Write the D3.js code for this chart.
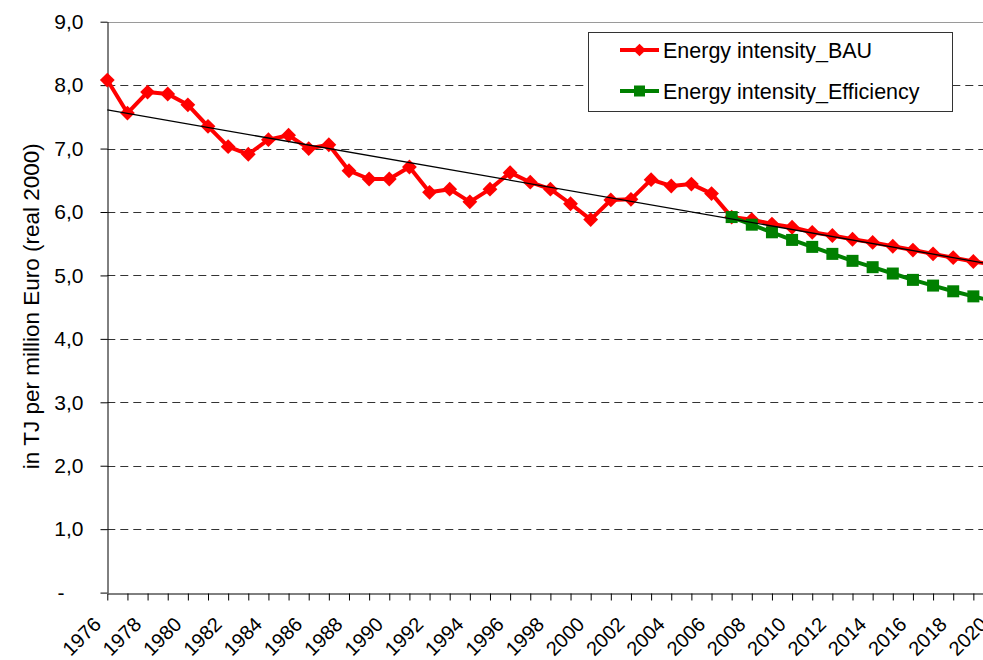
<!DOCTYPE html>
<html>
<head>
<meta charset="utf-8">
<script src="https://cdn.jsdelivr.net/npm/d3@7"></script>
<style>
  html, body { margin: 0; padding: 0; background: #fff; }
  svg { display: block; font-family: "Liberation Sans", Arial, sans-serif; }
</style>
</head>
<body>
<svg id="chart" width="983" height="660"></svg>
<script>
// ---- data ----
const years = d3.range(1976, 2021);
const bauValues = [
  8.08, 7.56, 7.89, 7.86, 7.69, 7.35, 7.03, 6.91, 7.14, 7.21,
  7.00, 7.06, 6.65, 6.52, 6.52, 6.71, 6.31, 6.36, 6.16, 6.36,
  6.62, 6.47, 6.36, 6.13, 5.88, 6.19, 6.20, 6.51, 6.41, 6.44,
  6.29, 5.92, 5.88, 5.81, 5.76, 5.68, 5.63, 5.57, 5.52, 5.46,
  5.40, 5.34, 5.28, 5.22, 5.17
];
const effYears = d3.range(2007, 2021);
const effValues = [5.92, 5.80, 5.68, 5.56, 5.45, 5.34, 5.23, 5.13, 5.03, 4.93, 4.84, 4.75, 4.67, 4.59];
const trendYears = [1976, 2020];
const trendValues = [7.61, 5.17];
const yTicks = [0, 1, 2, 3, 4, 5, 6, 7, 8, 9];
const yTickLabels = ["-", "1,0", "2,0", "3,0", "4,0", "5,0", "6,0", "7,0", "8,0", "9,0"];
const xLabelYears = d3.range(1976, 2021, 2);
const seriesNames = ["Energy intensity_BAU", "Energy intensity_Efficiency"];
const yTitle = "in TJ per million Euro (real 2000)";

// ---- layout ----
const svg = d3.select("#chart");
const x = d3.scaleLinear().domain([1976, 2020]).range([107.3, 993.5]);
const y = d3.scaleLinear().domain([0, 9]).range([592.6, 21.7]);
const red = "#ff0000", green = "#008000";

// gridlines
const grid = svg.append("g");
grid.selectAll("line.g").data(yTicks.filter(d => d > 0 && d < 9)).join("line")
  .attr("x1", x(1976)).attr("x2", x(2020))
  .attr("y1", d => Math.round(y(d)) + 0.5).attr("y2", d => Math.round(y(d)) + 0.5)
  .attr("stroke", "#333").attr("stroke-width", 1).attr("stroke-dasharray", "8,5");
grid.append("line")
  .attr("x1", x(1976)).attr("x2", x(2020))
  .attr("y1", Math.round(y(9)) + 0.5).attr("y2", Math.round(y(9)) + 0.5)
  .attr("stroke", "#9a9a9a").attr("stroke-width", 1);

// y axis
const yAxis = d3.axisLeft(y).tickValues(yTicks).tickSize(7).tickSizeOuter(0)
  .tickFormat((d, i) => yTickLabels[i]).tickPadding(17);
const gy = svg.append("g").attr("transform", `translate(${Math.round(x(1976)) + 0.5},0)`).call(yAxis);
gy.select(".domain").attr("stroke", "#000");
gy.selectAll(".tick line").attr("stroke", "#000");
gy.selectAll(".tick text").attr("font-size", 21).attr("fill", "#000")
  .attr("font-family", "Liberation Sans, Arial, sans-serif");
gy.selectAll(".tick").filter(d => d === 0).select("text").attr("dx", -19);

// x axis
const xAxis = d3.axisBottom(x).tickValues(years).tickSize(7).tickSizeOuter(0).tickFormat("");
const gx = svg.append("g").attr("transform", `translate(0,${Math.round(y(0)) + 0.5})`).call(xAxis);
gx.select(".domain").attr("stroke", "#000");
gx.selectAll(".tick line").attr("stroke", "#000");

svg.append("g").selectAll("text").data(xLabelYears).join("text")
  .attr("transform", d => `translate(${x(d) - 5},${y(0) + 33}) rotate(-45)`)
  .attr("text-anchor", "end")
  .attr("font-size", 20)
  .attr("fill", "#000")
  .text(d => d);

// y title
svg.append("text")
  .attr("transform", `translate(39,${(y(0) + y(9)) / 2 - 1}) rotate(-90)`)
  .attr("text-anchor", "middle")
  .attr("font-size", 22.5)
  .text(yTitle);

// series
const line = d3.line().x(d => x(d[0])).y(d => y(d[1]));
const bau = years.map((yr, i) => [yr, bauValues[i]]);
const eff = effYears.map((yr, i) => [yr, effValues[i]]);

svg.append("path").datum(bau).attr("d", line)
  .attr("fill", "none").attr("stroke", red).attr("stroke-width", 4).attr("stroke-linejoin", "round");
svg.append("g").selectAll("path").data(bau).join("path")
  .attr("transform", d => `translate(${x(d[0])},${y(d[1])}) rotate(45)`)
  .attr("d", d3.symbol().type(d3.symbolSquare).size(110)).attr("fill", red);

svg.append("path").datum(eff).attr("d", line)
  .attr("fill", "none").attr("stroke", green).attr("stroke-width", 4).attr("stroke-linejoin", "round");
svg.append("g").selectAll("rect").data(eff).join("rect")
  .attr("x", d => x(d[0]) - 6).attr("y", d => y(d[1]) - 6)
  .attr("width", 12).attr("height", 12).attr("fill", green);

// trend line
svg.append("line")
  .attr("x1", x(trendYears[0])).attr("y1", y(trendValues[0]))
  .attr("x2", x(trendYears[1])).attr("y2", y(trendValues[1]))
  .attr("stroke", "#000").attr("stroke-width", 1.3);

// legend
const lg = svg.append("g");
lg.append("rect").attr("x", 588.5).attr("y", 32.5).attr("width", 364).attr("height", 79)
  .attr("fill", "#fff").attr("stroke", "#333").attr("stroke-width", 1);
const legendItems = [
  { name: seriesNames[0], color: red, marker: "diamond" },
  { name: seriesNames[1], color: green, marker: "square" }
];
const li = lg.selectAll("g.item").data(legendItems).join("g")
  .attr("transform", (d, i) => `translate(620,${50 + i * 41})`);
li.append("line").attr("x1", 0).attr("x2", 39).attr("y1", 0).attr("y2", 0)
  .attr("stroke", d => d.color).attr("stroke-width", 4);
li.filter(d => d.marker === "diamond").append("path")
  .attr("transform", "translate(19.5,0) rotate(45)")
  .attr("d", d3.symbol().type(d3.symbolSquare).size(80)).attr("fill", red);
li.filter(d => d.marker === "square").append("rect")
  .attr("x", 14).attr("y", -5.5).attr("width", 11).attr("height", 11).attr("fill", green);
li.append("text").attr("x", 43).attr("y", 7.5).attr("font-size", 21.5).attr("fill", "#000")
  .text(d => d.name);
</script>
</body>
</html>
